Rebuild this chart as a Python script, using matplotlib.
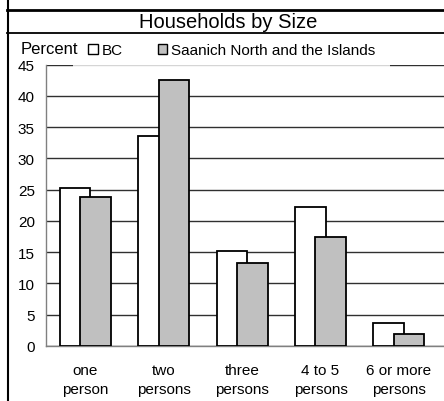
import matplotlib
matplotlib.use("Agg")
import matplotlib.pyplot as plt
from matplotlib.patches import Patch
from matplotlib.lines import Line2D
import numpy as np

plt.rcParams['font.family'] = ['Liberation Sans', 'DejaVu Sans']

categories = ["one\nperson", "two\npersons", "three\npersons", "4 to 5\npersons", "6 or more\npersons"]
bc = [25.3, 33.6, 15.2, 22.2, 3.7]
saanich = [23.9, 42.6, 13.3, 17.5, 1.9]
series_names = ["BC", "Saanich North and the Islands"]
title = "Households by Size"
yticks = [0, 5, 10, 15, 20, 25, 30, 35, 40, 45]

W, H = 444, 402
fig = plt.figure(figsize=(W / 100, H / 100), dpi=100)

def fx(px):
    return px / W

def fy(py):
    return 1 - py / H

ax = fig.add_axes([fx(46), fy(347), 400 / W, (347 - 65.7) / H])
x = np.arange(len(categories))
bw = 0.39
off = 0.13
ax.bar(x - off, bc, bw, color="white", edgecolor="black", linewidth=1.3, zorder=3)
ax.bar(x + off, saanich, bw, color="#c0c0c0", edgecolor="black", linewidth=1.3, zorder=4)
ax.set_xlim(-0.5, 4.6)
ax.set_ylim(0, 45)
ax.set_yticks(yticks)
ax.set_yticklabels([str(v) for v in yticks], fontsize=11)
ax.set_xticks(x)
ax.set_xticklabels(categories, fontsize=11, linespacing=1.45)
ax.tick_params(axis="y", length=0, pad=8)
ax.tick_params(axis="x", length=0, pad=12)
ax.yaxis.grid(True, color="#303030", linewidth=1.0, zorder=0)
ax.set_axisbelow(True)
for s in ["top", "right"]:
    ax.spines[s].set_visible(False)
ax.spines["left"].set_color("#808080")
ax.spines["bottom"].set_color("#808080")
ax.spines["left"].set_linewidth(1.0)
ax.spines["bottom"].set_linewidth(1.0)

handles = [Patch(facecolor="white", edgecolor="black", linewidth=1.0),
           Patch(facecolor="#c0c0c0", edgecolor="black", linewidth=1.0)]
leg = fig.legend(handles, series_names, loc="upper left",
                 bbox_to_anchor=(fx(73), fy(29)), ncol=2, fontsize=11,
                 handlelength=0.65, handleheight=0.65, handletextpad=0.2,
                 columnspacing=2.3, frameon=True, borderpad=1.0,
                 borderaxespad=0.0, fancybox=False)
leg.get_frame().set_facecolor("white")
leg.get_frame().set_edgecolor("none")
leg.set_zorder(10)

fig.text(fx(21), fy(54.5), "Percent", fontsize=12, ha="left", va="baseline", zorder=15)

fig.text(fx(228), fy(22.5), title, fontsize=14.5, ha="center", va="center", zorder=15)

fig.add_artist(Line2D([fx(7), 1], [fy(11), fy(11)], color="black", linewidth=2.0, zorder=20))
fig.add_artist(Line2D([fx(7), 1], [fy(34), fy(34)], color="black", linewidth=1.3, zorder=20))
fig.add_artist(Line2D([fx(7.5), fx(7.5)], [0, 1], color="black", linewidth=1.5, zorder=20))

fig.savefig("out.png", dpi=100)
